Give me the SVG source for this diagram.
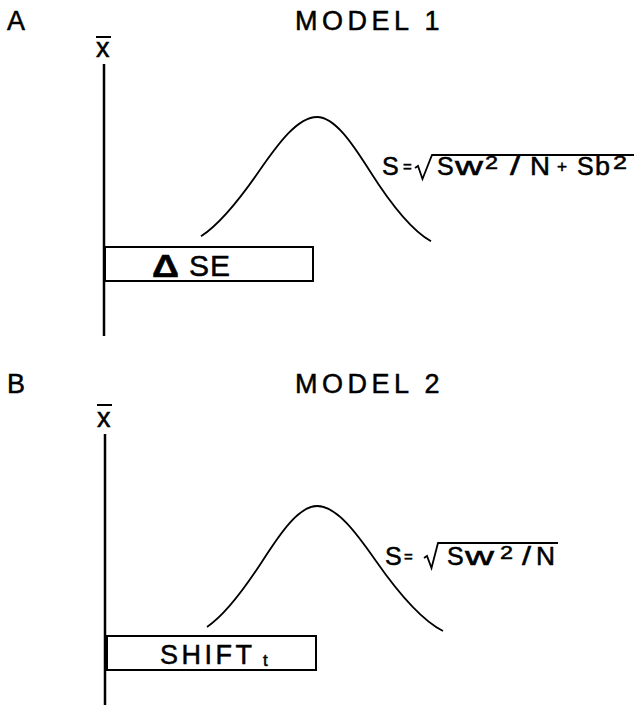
<svg xmlns="http://www.w3.org/2000/svg" width="635" height="706" viewBox="0 0 635 706">
<style>
text{font-family:"Liberation Sans",Arial,sans-serif;fill:#000;stroke:#000;stroke-width:0.5}
.ln{stroke:#000;fill:none}
.ax{stroke:#000;stroke-width:2.5;fill:none}
.box{stroke:#000;stroke-width:2;fill:#fff}
.crv{stroke:#000;stroke-width:1.8;fill:none}
.lbl{font-size:27px}
.ttl{font-size:27px;letter-spacing:4.5px}
.f{font-size:25px}
.sup{font-size:18px}
</style>
<rect width="635" height="706" fill="#fff"/>
<!-- Panel A -->
<g id="panelA">
<text class="lbl" x="7" y="30">A</text>
<text class="ttl" x="295" y="30">MODEL 1</text>
<g id="axisA">
<line class="ln" x1="96" y1="37" x2="111" y2="37" stroke-width="2"/>
<text x="96" y="57" font-size="27">x</text>
<line class="ax" x1="104" y1="64" x2="104" y2="336"/>
</g>
<g id="boxA">
<rect class="box" x="105" y="247" width="208" height="34"/>
<text x="152" y="277" font-size="32" font-weight="bold" textLength="27" lengthAdjust="spacingAndGlyphs">Δ</text>
<text x="189" y="276" font-size="30" letter-spacing="1">SE</text>
</g>
<g id="curveA">
<path class="crv" d="M201,236.3 C220.3,223.9 239.7,199.2 259,171.3 C278.3,143.4 297.7,117 317,117 C334.7,117 352.3,143.4 370,171.3 C390.3,203.4 410.7,230 431,241.3"/>
</g>
<g id="formulaA">
<text class="f" x="382" y="175">S</text>
<text x="403" y="172" font-size="15">=</text>
<path class="ln" stroke-width="1.8" d="M415,168 L418,166 L422.5,179 L432,155 L634,155"/>
<text class="f" x="437" y="175">S</text>
<text class="f" x="455" y="175" textLength="28" lengthAdjust="spacingAndGlyphs">w</text>
<text class="sup" x="485" y="169" textLength="13" lengthAdjust="spacingAndGlyphs">2</text>
<text class="f" x="510" y="175" textLength="10" lengthAdjust="spacingAndGlyphs">/</text>
<text class="f" x="530" y="175" textLength="20" lengthAdjust="spacingAndGlyphs">N</text>
<text x="557" y="172" font-size="16" textLength="10" lengthAdjust="spacingAndGlyphs">+</text>
<text class="f" x="577" y="175">S</text>
<text class="f" x="595" y="175" textLength="15" lengthAdjust="spacingAndGlyphs">b</text>
<text class="sup" x="613" y="169" textLength="14" lengthAdjust="spacingAndGlyphs">2</text>
</g>
</g>
<!-- Panel B -->
<g id="panelB">
<text class="lbl" x="7" y="393">B</text>
<text class="ttl" x="295" y="393">MODEL 2</text>
<g id="axisB">
<line class="ln" x1="97" y1="405" x2="112" y2="405" stroke-width="2"/>
<text x="97" y="427" font-size="27">x</text>
<line class="ax" x1="105" y1="434" x2="105" y2="705"/>
</g>
<g id="boxB">
<rect class="box" x="107" y="636" width="209" height="34"/>
<text x="160" y="664" font-size="27" letter-spacing="3.5">SHIFT</text>
<text x="263" y="666" font-size="17">t</text>
</g>
<g id="curveB">
<path class="crv" d="M207,627 C225.5,614.6 244.1,589.4 262.6,560.7 C280.7,532.6 298.9,506 317,506 C336.6,506 356.2,532.6 375.8,560.7 C398.2,592.8 420.6,619.6 443,631"/>
</g>
<g id="formulaB">
<text class="f" x="385" y="565">S</text>
<text x="404" y="562" font-size="15">=</text>
<path class="ln" stroke-width="1.8" d="M424,558 L427,556 L431.5,568 L438,543 L558,543"/>
<text class="f" x="447" y="565">S</text>
<text class="f" x="465" y="565" textLength="29" lengthAdjust="spacingAndGlyphs">w</text>
<text class="sup" x="500" y="559" textLength="13" lengthAdjust="spacingAndGlyphs">2</text>
<text class="f" x="522" y="565" textLength="9" lengthAdjust="spacingAndGlyphs">/</text>
<text class="f" x="536" y="565" textLength="19" lengthAdjust="spacingAndGlyphs">N</text>
</g>
</g>
</svg>
